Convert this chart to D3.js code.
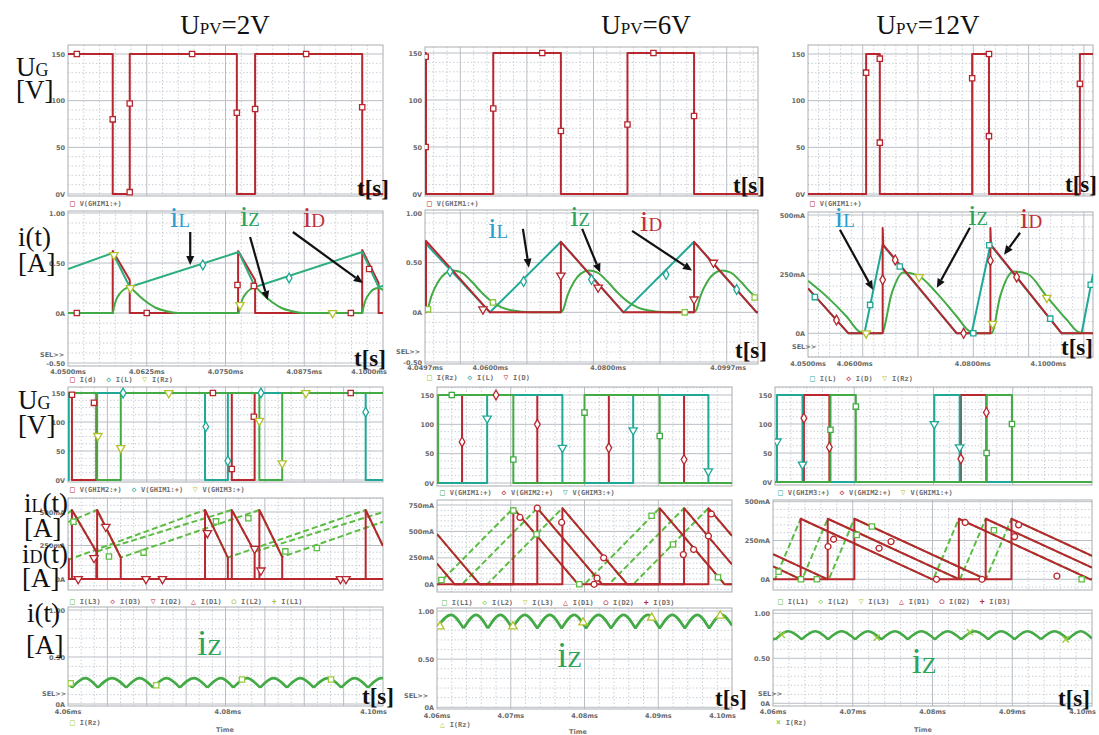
<!DOCTYPE html>
<html>
<head>
<meta charset="utf-8">
<script src="https://cdn.jsdelivr.net/npm/d3@7"></script>
<style>
  body { margin: 0; background: #fff; }
  svg { display: block; }
</style>
</head>
<body>
<svg id="fig" width="1099" height="735"></svg>
<script>
// ---------------- data (t in µs from the start of each window) ----------------

// column headers
const colTitles = ["=2V", "=6V", "=12V"];

// row 1: gate voltage of one switch [V]
const ug2V = [[0,150],[7.1,0],[9.8,150],[26.8,0],[29.7,150],[46.7,0],[50,0]];
const ug2Vmk = [[1.4,150],[7.1,80],[9.8,97],[9.8,2],[19.7,150],[26.8,87],[29.7,91],[37.8,150],[46.7,93]];
const ug6V = [[0,150],[0.15,0],[10.25,150],[20.4,0],[30.4,150],[40.4,0],[50,0]];
const ug6Vmk = [[0.1,146],[0.1,50],[10.25,91],[17.6,150],[20.4,67],[30.4,74],[34.3,150],[40.4,83]];
const ug12V = [[0,0],[10.2,150],[12.6,0],[28.8,150],[31.75,0],[47.7,150],[50,150]];
const ug12Vmk = [[10.2,130],[12.6,145],[12.6,55],[28.8,124],[31.75,62],[31.75,150],[47.7,118]];

// row 2: single-phase currents [A] / [mA]
const iL2V = [[0,0.44],[7.1,0.60],[9.8,0.26],[27.1,0.61],[29.7,0.26],[46.7,0.61],[49.3,0.26],[50,0.27]];
const iL2Vmk = [[21.4,0.48],[35.1,0.35]];
const iZ2V = [[0,0],[7.1,0],[7.3,0.06],[7.7,0.14],[8.3,0.20],[9.0,0.24],[9.8,0.26],[10.5,0.22],[11.5,0.16],
  [12.7,0.10],[14.0,0.05],[15.5,0.02],[17.5,0],[27.1,0],[27.3,0.06],[27.7,0.14],[28.3,0.20],[29.0,0.24],
  [29.7,0.26],[30.4,0.22],[31.4,0.16],[32.6,0.10],[33.9,0.05],[35.4,0.02],[37.4,0],[46.7,0],[46.9,0.06],
  [47.3,0.14],[47.9,0.20],[48.6,0.24],[49.3,0.25],[50,0.23]];
const iZ2Vmk = [[7.3,0.58],[9.9,0.25],[27.3,0.08],[42.0,0]];
const iD2V = [[0,0],[7.1,0],[7.1,0.62],[9.8,0.33],[9.8,0],[27.0,0],[27.0,0.62],[29.7,0.33],[29.7,0],
  [46.7,0],[46.7,0.63],[49.3,0.30],[49.3,0],[50,0]];
const iD2Vmk = [[1.4,0],[12.5,0],[26.9,0.28],[29.5,0.27],[44.9,0],[47.8,0.44]];

const iL6V = [[0,0.70],[9.76,0],[20.4,0.71],[29.8,0],[40.4,0.71],[49.8,0],[50,0.01]];
const iL6Vmk = [[3.75,0.41],[14.8,0.31],[25.0,0.33],[36.2,0.38],[46.8,0.23]];
const iZ6V = [[0,0],[0.3,0.02],[1.0,0.17],[2.0,0.31],[3.0,0.39],[4.2,0.42],[5.5,0.40],[7.0,0.31],[8.5,0.20],
  [10.2,0.10],[11.5,0.05],[13.0,0.02],[16.0,0],[20.4,0],[20.7,0.02],[21.4,0.17],[22.4,0.31],[23.4,0.39],
  [24.6,0.42],[25.9,0.40],[27.4,0.31],[28.9,0.20],[30.6,0.10],[31.9,0.05],[33.4,0.02],[36.4,0],[40.4,0],
  [40.7,0.02],[41.4,0.17],[42.4,0.31],[43.4,0.39],[44.6,0.42],[45.9,0.40],[47.4,0.31],[48.9,0.20],[50,0.14]];
const iZ6Vmk = [[0.45,0.03],[10.2,0.10],[39.0,0],[49.5,0.15]];
const iD6V = [[0,0],[0.15,0],[0.15,0.72],[9.76,0],[20.4,0],[20.4,0.71],[29.8,0],[40.4,0],[40.4,0.71],[49.8,0],[50,0]];
const iD6Vmk = [[8.7,0.03],[20.4,0.37],[26.0,0.25],[40.4,0.13],[43.3,0.50]];

const iL12V = [[0,190],[7.1,0],[9.9,0],[13.1,374],[26.1,0],[28.7,0],[32.0,374],[44.5,0],[48.0,0],[50,250]];
const iL12Vmk = [[1.2,153],[10.9,120],[16.1,282],[29.0,0],[31.8,372],[42.5,62],[49.6,205]];
const iZ12V = [[0,222],[3.3,155],[6.8,70],[9.1,6],[10.3,0],[12.9,0],[14.7,170],[16.7,257],[19.1,247],
  [22.6,170],[26.1,71],[28.4,7],[29.6,0],[32.2,0],[33.7,155],[36.1,261],[38.5,251],[41.9,155],[45.4,57],
  [47.7,3],[50,0]];
const iZ12Vmk = [[10.2,0],[19.5,238],[32.4,40],[41.9,150]];
const iD12V = [[0,190],[7.1,0],[13.1,0],[13.1,445],[13.2,374],[26.1,0],[32.0,0],[32.0,445],[32.1,374],[44.5,0],[50,0]];
const iD12Vmk = [[5.0,56],[13.1,226],[15.3,310],[27.3,0],[32.0,307],[36.6,238]];

// row 3: gate voltages of the three phases [V]
const g2Va = [[0,150],[0.5,0],[3.6,150],[20.8,0],[23.7,150],[40,150]];
const g2Vamk = [[0.5,147],[3.3,133],[18.4,150],[20.8,19],[23.6,109],[35.9,150]];
const g2Vb = [[0,0],[0.1,150],[17.4,0],[20.3,150],[37.8,0],[40,0]];
const g2Vbmk = [[7.0,150],[17.5,92],[20.3,33],[24.5,150],[37.8,117]];
const g2Vc = [[0,150],[3.7,0],[6.7,150],[24.3,0],[27.2,150],[40,150]];
const g2Vcmk = [[3.8,76],[6.7,55],[12.8,150],[24.3,102],[27.2,29],[30.2,150]];

const g6Va = [[0,0],[0.15,150],[10.35,0],[20.0,150],[30.2,0],[40,0]];
const g6Vb = [[0,0],[3.4,150],[13.6,0],[23.3,150],[33.5,0],[40,0]];
const g6Vc = [[0,0],[6.8,150],[17.0,0],[26.6,150],[36.8,0],[40,0]];
const g6Vamk = [[2.0,150],[10.35,40],[20.0,120],[30.2,80]];
const g6Vbmk = [[3.4,70],[8.0,150],[13.6,100],[23.3,60],[33.5,40]];
const g6Vcmk = [[6.8,110],[17.0,60],[26.6,90],[36.8,20]];

const g12Va = [[0,0],[0.25,150],[3.47,0],[20.1,150],[23.3,0],[40,0]];
const g12Vb = [[0,0],[3.65,150],[6.86,0],[23.45,150],[26.67,0],[40,0]];
const g12Vc = [[0,0],[7.0,150],[10.2,0],[26.7,150],[29.9,0],[40,0]];
const g12Vamk = [[0.25,70],[3.47,30],[20.1,100],[23.3,60]];
const g12Vbmk = [[3.65,110],[6.86,60],[23.45,40],[26.67,120]];
const g12Vcmk = [[7.0,90],[10.2,130],[26.7,50],[29.9,100]];

// row 4: inductor (dashed) and diode currents of the three phases [mA]
const iLa2V = [[0,490],[0.5,515],[3.6,204],[20.8,515],[23.7,204],[40,499]];
const iLb2V = [[0,425],[3.7,515],[6.7,160],[24.3,515],[27.2,165],[40,427]];
const iLc2V = [[0,155],[0.1,145],[17.4,515],[20.3,160],[37.8,515],[40,246]];
const iDa2V = [[0,0],[0.5,0],[0.5,515],[3.6,204],[3.6,0],[20.8,0],[20.8,515],[23.7,204],[23.7,0],[40,0]];
const iDb2V = [[0,0],[3.7,0],[3.7,515],[6.7,160],[6.7,0],[24.3,0],[24.3,515],[27.2,165],[27.2,0],[40,0]];
const iDc2V = [[0,155],[0.1,145],[0.1,0],[17.4,0],[17.4,515],[20.3,160],[20.3,0],[37.8,0],[37.8,515],[40,246]];
const iL2Vmk4 = [[0.7,428],[5.2,168],[9.6,197],[18.8,430],[22.9,453],[27.6,206],[31.6,231]];
const iD2Vmk4 = [[3.3,157],[12.0,0],[17.7,343],[23.7,225],[34.6,0],[9.9,0],[35.3,0],[4.8,390],[24.5,64],[1.3,0]];

const iLa6V = [[0,0],[0.15,0],[10.35,720],[19.15,0],[20.0,0],[30.2,720],[39.0,0],[40,0]];
const iLb6V = [[0,196],[2.4,0],[3.4,0],[13.6,720],[22.4,0],[23.3,0],[33.5,720],[40,188]];
const iLc6V = [[0,475],[5.8,0],[6.8,0],[17.0,720],[25.8,0],[26.6,0],[36.8,720],[40,458]];
const iDa6V = [[0,0],[10.35,0],[10.35,720],[19.15,0],[30.2,0],[30.2,720],[39.0,0],[40,0]];
const iDb6V = [[0,196],[2.4,0],[13.6,0],[13.6,720],[22.4,0],[33.5,0],[33.5,720],[40,188]];
const iDc6V = [[0,475],[5.8,0],[17.0,0],[17.0,720],[25.8,0],[36.8,0],[36.8,720],[40,458]];
const iL6Vmk4 = [[0.6,41],[10.35,697],[19.3,0],[29.1,649],[38.1,67],[13.5,473],[32.0,377]];
const iD6Vmk4 = [[11.25,633],[21.3,0],[34.8,329],[13.6,720],[21.7,58],[33.4,281],[36.8,457],[16.9,585],[22.6,250],[37.2,665]];

const iLa12V = [[0,2],[0.1,0],[0.25,0],[3.47,390],[19.97,0],[20.1,0],[23.3,390],[39.8,0],[40,0]];
const iLb12V = [[0,83],[3.5,0],[3.65,0],[6.86,390],[23.36,0],[23.45,0],[26.67,390],[40,76]];
const iLc12V = [[0,162],[6.85,0],[7.0,0],[10.2,390],[26.7,0],[29.9,390],[40,151]];
const iDa12V = [[0,2],[0.1,0],[3.47,0],[3.47,390],[19.97,0],[23.3,0],[23.3,390],[39.8,0],[40,0]];
const iDb12V = [[0,83],[3.5,0],[6.86,0],[6.86,390],[23.36,0],[26.67,0],[26.67,390],[40,76]];
const iDc12V = [[0,162],[6.85,0],[10.2,0],[10.2,390],[26.7,0],[29.9,0],[29.9,390],[40,151]];
const iL12Vmk4 = [[0.7,49],[3.5,0],[10.5,286],[5.5,0],[12.4,340],[27.7,316],[38.7,0]];
const iD12Vmk4 = [[7.6,258],[20.5,0],[24.1,366],[35.6,21],[6.9,211],[13.3,200],[30.3,275],[14.8,243],[30.8,351],[26.2,0]];

// row 5: load current ripple [A]
const iZr2V = [[0,0.235],[0.5,0.175],[2.2,0.275],[3.8,0.175],[5.6,0.275],[7.4,0.175],[9.1,0.275],[10.8,0.175],
  [12.5,0.275],[14.2,0.175],[16.0,0.275],[17.7,0.175],[19.4,0.275],[21.0,0.175],[22.7,0.275],[24.4,0.175],
  [26.1,0.275],[27.8,0.175],[29.5,0.275],[31.2,0.175],[33.0,0.275],[34.7,0.175],[36.4,0.275],[38.1,0.175],
  [39.8,0.275],[40,0.274]];
const iZr2Vmk = [[0.34,0.22],[11.2,0.20],[22.1,0.26],[33.4,0.26]];
const iZr6V = [[0,0.83],[1.9,0.96],[3.6,0.82],[5.3,0.96],[6.9,0.82],[8.6,0.96],[10.2,0.82],[11.9,0.96],
  [13.6,0.82],[15.3,0.96],[16.9,0.82],[18.6,0.96],[20.2,0.82],[21.9,0.96],[23.6,0.82],[25.3,0.96],
  [26.9,0.82],[28.6,0.96],[30.2,0.82],[31.9,0.96],[33.6,0.82],[35.3,0.96],[36.9,0.82],[38.6,0.96],[40,0.85]];
const iZr6Vmk = [[0.4,0.84],[10.3,0.84],[19.8,0.88],[29.1,0.93],[38.4,0.95]];
const iZr12V = [[0,0.72],[0.3,0.71],[1.9,0.80],[3.6,0.71],[5.3,0.80],[6.9,0.71],[8.6,0.80],[10.3,0.71],
  [11.9,0.80],[13.6,0.71],[15.3,0.80],[16.9,0.71],[18.6,0.80],[20.3,0.71],[21.9,0.80],[23.6,0.71],
  [25.3,0.80],[27.0,0.71],[28.6,0.80],[30.3,0.71],[31.9,0.80],[33.6,0.71],[35.3,0.80],[37.0,0.71],
  [38.6,0.80],[40,0.72]];
const iZr12Vmk = [[1.1,0.76],[13.0,0.73],[24.7,0.79],[36.7,0.71]];

// tick labels
const ytV = [[0,"0V"],[50,"50"],[100,"100"],[150,"150"]];
const ytA = [[-0.5,"-0.50"],[0,"0A"],[0.5,"0.50"],[1,"1.00"]];
const ytmA500 = [[0,"0A"],[250,"250mA"],[500,"500mA"]];
const ytmA750 = [[0,"0A"],[250,"250mA"],[500,"500mA"],[750,"750mA"]];
const ytZ = [[0,"0A"],[0.5,"0.50"],[1,"1.00"]];
const xt2V = [[0,"4.0500ms"],[12.5,"4.0625ms"],[25,"4.0750ms"],[37.5,"4.0875ms"],[50,"4.1000ms"]];
const xt6V = [[0,"4.0497ms"],[9.8,"4.0600ms"],[27.5,"4.0800ms"],[47.6,"4.0997ms"]];
const xt12V = [[0,"4.0500ms"],[8.2,"4.0600ms"],[28.9,"4.0800ms"],[44.6,"4.1000ms"]];
const xtZ2V = [[0,"4.06ms"],[20.3,"4.08ms"],[40,"4.10ms"]];
const xtZ = [[0,"4.06ms"],[10,"4.07ms"],[20,"4.08ms"],[30,"4.09ms"],[40,"4.10ms"]];

// annotations in data units: [text, sub, colour, t, v] and arrows [t0,v0,t1,v1]
const ann2V = [["i","L","#2a9fd0",16.2,0.86],["i","Z","#2ca35a",27.3,0.87],["i","D","#c0303a",37.3,0.86]];
const arr2V = [[19.4,0.81,19.4,0.48],[28.9,0.76,31.7,0.13],[35.7,0.81,46.8,0.30]];
const ann6V = [["i","L","#2a9fd0",9.5,0.75],["i","Z","#2ca35a",21.8,0.87],["i","D","#c0303a",32.3,0.82]];
const arr6V = [[14.7,0.84,15.6,0.45],[23.6,0.84,26.3,0.40],[31.1,0.82,40.1,0.42]];
const ann12V = [["i","L","#2a9fd0",4.7,451],["i","Z","#2ca35a",28.1,459],["i","D","#c0303a",37.2,446]];
const arr12V = [[5.6,438,11.4,184],[28.4,446,22.6,192],[37.2,425,34.4,332]];

// ---------------- drawing ----------------
const RED = "#b8262e", TEAL = "#1fa896", GRN = "#43aa45", LIME = "#b3c22c",
      DASH = "#5cbc43", IL1 = "#2fae7e", LGRN = "#8fcf5a", PINK = "#c8506e";

const svg = d3.select("#fig");
const defs = svg.append("defs");
let clipN = 0;

const SYM = {
  sq: d3.symbolSquare, di: d3.symbolDiamond, tu: d3.symbolTriangle, td: d3.symbolTriangle,
  ci: d3.symbolCircle, pl: d3.symbolPlus || d3.symbolCross, x: d3.symbolTimes || d3.symbolCross
};
const SYMCH = {sq: "\u25A1", di: "\u25C7", tu: "\u25B3", td: "\u25BD", ci: "\u25CB", pl: "+", x: "\u00D7"};

// split at local minima so the ripple keeps sharp valleys
function cuspPieces(data) {
  const out = [];
  let cur = [data[0]];
  for (let i = 1; i < data.length; i++) {
    cur.push(data[i]);
    if (i < data.length - 1 && data[i][1] < data[i - 1][1] && data[i][1] < data[i + 1][1]) {
      out.push(cur);
      cur = [data[i]];
    }
  }
  if (cur.length > 1) out.push(cur);
  return out;
}

function drawPanel(p) {
  const [L, T, R, B] = p.box;
  const yv = p.yt.map(d => d[0]);
  const x = d3.scaleLinear().domain([0, p.T]).range([L, R]);
  const y = d3.scaleLinear().domain([yv[0], yv[yv.length - 1]]).range(p.yPx);
  const g = svg.append("g");

  // grid
  const grid = g.append("g");
  const hStep = (yv[1] - yv[0]) / p.hSub;
  const lo = y.invert(B), hi = y.invert(T);
  for (let k = Math.ceil((lo - yv[0]) / hStep - 1e-6); yv[0] + k * hStep <= hi + 1e-6; k++) {
    const yy = y(yv[0] + k * hStep);
    const major = ((k % p.hSub) + p.hSub) % p.hSub === 0;
    grid.append("line").attr("x1", L).attr("x2", R).attr("y1", yy).attr("y2", yy)
      .attr("stroke", major ? "#b9bec4" : "#c9d0d8")
      .attr("stroke-width", 1)
      .attr("stroke-dasharray", major ? null : "1.5,2");
  }
  const [vOff, vStep, vSub] = p.vg;
  const vm = vStep / vSub;
  for (let k = Math.ceil(-vOff / vm - 1e-6); vOff + k * vm <= p.T + 1e-6; k++) {
    const t = vOff + k * vm;
    if (t <= 0.05 || t >= p.T - 0.05) continue;
    const major = ((k % vSub) + vSub) % vSub === 0;
    grid.append("line").attr("x1", x(t)).attr("x2", x(t)).attr("y1", T).attr("y2", B)
      .attr("stroke", major ? "#b9bec4" : "#c9d0d8")
      .attr("stroke-width", 1)
      .attr("stroke-dasharray", major ? null : "1.5,2");
  }
  g.append("rect").attr("x", L).attr("y", T).attr("width", R - L).attr("height", B - T)
    .attr("fill", "none").attr("stroke", "#a9adb2").attr("stroke-width", 1);

  // y tick labels
  g.selectAll(".yl").data(p.yt).enter().append("text")
    .attr("x", L - 3).attr("y", d => y(d[0]) + 2.5)
    .attr("text-anchor", "end")
    .attr("font-family", "DejaVu Sans").attr("font-size", 6.5).attr("font-weight", "bold")
    .attr("fill", "#6a6a6a")
    .text(d => d[1]);

  // x tick labels
  if (p.xt) {
    g.selectAll(".xl").data(p.xt).enter().append("text")
      .attr("x", d => x(d[0])).attr("y", p.xtY)
      .attr("text-anchor", (d, i) => i === p.xt.length - 1 ? "end" : "middle")
      .attr("dx", (d, i) => i === p.xt.length - 1 ? 4 : 0)
      .attr("font-family", "DejaVu Sans").attr("font-size", 6.5).attr("font-weight", "bold")
      .attr("fill", "#6a6a6a")
      .text(d => d[1]);
  }
  if (p.sel) {
    g.append("text").attr("x", p.sel[0]).attr("y", p.sel[1])
      .attr("font-family", "DejaVu Sans").attr("font-size", 6.5).attr("font-weight", "bold")
      .attr("fill", "#6a6a6a").text("SEL>>");
  }

  // traces
  const id = "clip" + (clipN++);
  defs.append("clipPath").attr("id", id).append("rect")
    .attr("x", L).attr("y", T).attr("width", R - L).attr("height", B - T);
  const tr = g.append("g").attr("clip-path", `url(#${id})`);
  p.series.forEach(s => {
    const line = d3.line().x(d => x(d[0])).y(d => y(d[1]));
    let dstr;
    if (s.curve === "step") dstr = line.curve(d3.curveStepAfter)(s.d);
    else if (s.curve === "smooth") dstr = line.curve(d3.curveMonotoneX)(s.d);
    else if (s.curve === "cusp") dstr = cuspPieces(s.d).map(pc => line.curve(d3.curveMonotoneX)(pc)).join("");
    else dstr = line.curve(d3.curveLinear)(s.d);
    tr.append("path").attr("d", dstr).attr("fill", "none")
      .attr("stroke", s.c).attr("stroke-width", s.w || 2)
      .attr("stroke-dasharray", s.dash || null)
      .attr("stroke-linejoin", "round");
  });
  p.series.forEach(s => {
    if (!s.mk) return;
    const sym = d3.symbol().type(SYM[s.sym]).size(s.sym === "tu" || s.sym === "td" ? 30 : 28);
    tr.selectAll(null).data(s.mk).enter().append("path")
      .attr("d", sym)
      .attr("transform", d => `translate(${x(d[0])},${y(d[1])})${s.sym === "td" ? " rotate(180)" : ""}${s.sym === "x" && !d3.symbolTimes ? " rotate(45)" : ""}`)
      .attr("fill", s.sym === "pl" || s.sym === "x" ? "none" : "#fff")
      .attr("stroke", s.mc || s.c).attr("stroke-width", 1.3);
  });

  // annotations
  if (p.ann) {
    p.ann.forEach(a => {
      const t = g.append("text").attr("x", x(a[3])).attr("y", y(a[4]))
        .attr("font-family", "Liberation Serif").attr("fill", a[2]);
      t.append("tspan").attr("font-size", p.annBig || 30).text(a[0]);
      t.append("tspan").attr("font-size", p.annSmall || 19).text(a[1]);
    });
  }
  if (p.arr) {
    p.arr.forEach(a => {
      const x0 = x(a[0]), y0 = y(a[1]), x1 = x(a[2]), y1 = y(a[3]);
      const ang = Math.atan2(y1 - y0, x1 - x0), hl = 9, hw = 4;
      const bx = x1 - hl * Math.cos(ang), by = y1 - hl * Math.sin(ang);
      g.append("line").attr("x1", x0).attr("y1", y0).attr("x2", bx).attr("y2", by)
        .attr("stroke", "#111").attr("stroke-width", 2.2);
      g.append("path")
        .attr("d", `M${x1},${y1}L${bx - hw * Math.sin(ang)},${by + hw * Math.cos(ang)}L${bx + hw * Math.sin(ang)},${by - hw * Math.cos(ang)}Z`)
        .attr("fill", "#111");
    });
  }

  // legend
  if (p.leg) {
    const lt = g.append("text").attr("x", p.leg[0]).attr("y", p.leg[1])
      .attr("font-family", "DejaVu Sans Mono").attr("font-size", 7).attr("font-weight", "bold")
      .attr("xml:space", "preserve");
    p.leg[2].forEach((it, i) => {
      lt.append("tspan").attr("fill", it[1]).attr("font-size", 8).text((i ? "  " : "") + SYMCH[it[0]] + " ");
      lt.append("tspan").attr("fill", "#707070").text(it[2]);
    });
  }
  if (p.time) {
    g.append("text").attr("x", p.time[0]).attr("y", p.time[1]).attr("text-anchor", "middle")
      .attr("font-family", "DejaVu Sans").attr("font-size", 6.5).attr("font-weight", "bold")
      .attr("fill", "#707070").text("Time");
  }
  if (p.ts) {
    g.append("text").attr("x", p.ts[0]).attr("y", p.ts[1])
      .attr("font-family", "Liberation Serif").attr("font-size", 23).attr("font-weight", "bold")
      .attr("fill", "#111").text("t[s]");
  }
}

const panels = [
  // row 1
  {box:[68,45,383,196], T:50, yt:ytV, yPx:[194,54], hSub:5, vg:[0,12.5,5],
   series:[{d:ug2V, c:RED, curve:"step", mk:ug2Vmk, sym:"sq"}],
   leg:[70,206,[["sq",RED,"V(GHIM1:+)"]]], ts:[357,196]},
  {box:[425,47,758,196], T:50, yt:ytV, yPx:[194,53], hSub:5, vg:[5.3,10,5],
   series:[{d:ug6V, c:RED, curve:"step", mk:ug6Vmk, sym:"sq"}],
   leg:[427,206,[["sq",RED,"V(GHIM1:+)"]]], ts:[733,193]},
  {box:[808,45,1093,196], T:50, yt:ytV, yPx:[194,54], hSub:5, vg:[9.6,9.7,5],
   series:[{d:ug12V, c:RED, curve:"step", mk:ug12Vmk, sym:"sq"}],
   leg:[810,206,[["sq",RED,"V(GHIM1:+)"]]], ts:[1065,192]},
  // row 2
  {box:[68,211,383,366], T:50, yt:ytA, yPx:[363,213], hSub:5, vg:[0,12.5,5], xt:xt2V, xtY:374, sel:[40,357],
   series:[{d:iD2V, c:RED, mk:iD2Vmk, sym:"sq"},
           {d:iZ2V, c:GRN, curve:"smooth", mk:iZ2Vmk, sym:"td", mc:LIME},
           {d:iL2V, c:IL1, mk:iL2Vmk, sym:"di", mc:TEAL}],
   leg:[70,382,[["sq",RED,"I(d)"],["di",TEAL,"I(L)"],["td",LIME,"I(Rz)"]]],
   ann:ann2V, arr:arr2V, ts:[354,366]},
  {box:[425,210,758,364], T:50, yt:ytA, yPx:[362,213], hSub:5, vg:[5.3,10,5], xt:xt6V, xtY:370, sel:[396,354],
   series:[{d:iL6V, c:TEAL, mk:iL6Vmk, sym:"di"},
           {d:iZ6V, c:GRN, curve:"smooth", mk:iZ6Vmk, sym:"sq", mc:"#8cc63f"},
           {d:iD6V, c:RED, mk:iD6Vmk, sym:"td"}],
   leg:[427,380,[["sq","#8cc63f","I(Rz)"],["di",TEAL,"I(L)"],["td",RED,"I(D)"]]],
   ann:ann6V, arr:arr6V, ts:[735,358]},
  {box:[808,212,1093,357], T:50, yt:ytmA500, yPx:[333.3,215], hSub:5, vg:[9.6,9.7,5], xt:xt12V, xtY:366, sel:[792,349],
   series:[{d:iL12V, c:TEAL, mk:iL12Vmk, sym:"sq"},
           {d:iZ12V, c:GRN, curve:"smooth", mk:iZ12Vmk, sym:"td", mc:LIME},
           {d:iD12V, c:RED, mk:iD12Vmk, sym:"di"}],
   leg:[810,381,[["sq",TEAL,"I(L)"],["di",RED,"I(D)"],["td",LIME,"I(Rz)"]]],
   ann:ann12V, arr:arr12V, ts:[1061,355]},
  // row 3
  {box:[68,387,383,482], T:40, yt:ytV, yPx:[480,393], hSub:4, vg:[0,5,3],
   series:[{d:g2Va, c:RED, curve:"step", mk:g2Vamk, sym:"sq"},
           {d:g2Vb, c:TEAL, curve:"step", mk:g2Vbmk, sym:"di"},
           {d:g2Vc, c:GRN, curve:"step", mk:g2Vcmk, sym:"td", mc:LIME}],
   leg:[70,492,[["sq",RED,"V(GHIM2:+)"],["di",TEAL,"V(GHIM1:+)"],["td",LIME,"V(GHIM3:+)"]]]},
  {box:[437,387,732,486], T:40, yt:ytV, yPx:[483,395], hSub:4, vg:[0,10,5],
   series:[{d:g6Vb, c:RED, curve:"step", mk:g6Vbmk, sym:"di"},
           {d:g6Vc, c:TEAL, curve:"step", mk:g6Vcmk, sym:"td"},
           {d:g6Va, c:GRN, curve:"step", mk:g6Vamk, sym:"sq"}],
   leg:[440,495,[["sq",GRN,"V(GHIM1:+)"],["di",RED,"V(GHIM2:+)"],["td",TEAL,"V(GHIM3:+)"]]]},
  {box:[775,387,1092,485], T:40, yt:ytV, yPx:[482,395], hSub:4, vg:[0,10,5],
   series:[{d:g12Vb, c:RED, curve:"step", mk:g12Vbmk, sym:"di"},
           {d:g12Va, c:TEAL, curve:"step", mk:g12Vamk, sym:"td"},
           {d:g12Vc, c:GRN, curve:"step", mk:g12Vcmk, sym:"sq"}],
   leg:[778,495,[["sq",TEAL,"V(GHIM3:+)"],["di",RED,"V(GHIM2:+)"],["td",LIME,"V(GHIM1:+)"]]]},
  // row 4
  {box:[68,498,383,590], T:40, yt:ytmA500, yPx:[579,512], hSub:5, vg:[0,5,3],
   series:[{d:iLa2V, c:DASH, dash:"6,3", mk:iL2Vmk4, sym:"sq"},
           {d:iLb2V, c:DASH, dash:"6,3"}, {d:iLc2V, c:DASH, dash:"6,3"},
           {d:iDa2V, c:RED, mk:iD2Vmk4, sym:"td"}, {d:iDb2V, c:RED}, {d:iDc2V, c:RED}],
   leg:[70,604,[["sq",DASH,"I(L3)"],["di",PINK,"I(D3)"],["td",RED,"I(D2)"],["tu",RED,"I(D1)"],["ci",LIME,"I(L2)"],["pl",LIME,"I(L1)"]]]},
  {box:[437,500,732,592], T:40, yt:ytmA750, yPx:[584.3,505], hSub:5, vg:[0,10,5],
   series:[{d:iLa6V, c:DASH, dash:"6,3", mk:iL6Vmk4, sym:"sq"},
           {d:iLb6V, c:DASH, dash:"6,3"}, {d:iLc6V, c:DASH, dash:"6,3"},
           {d:iDa6V, c:RED, mk:iD6Vmk4, sym:"ci"}, {d:iDb6V, c:RED}, {d:iDc6V, c:RED}],
   leg:[442,605,[["sq",DASH,"I(L1)"],["di",LGRN,"I(L2)"],["td",LIME,"I(L3)"],["tu",RED,"I(D1)"],["ci",RED,"I(D2)"],["pl",RED,"I(D3)"]]]},
  {box:[773,500,1092,590], T:40, yt:ytmA500, yPx:[579.3,501.7], hSub:5, vg:[0,10,5],
   series:[{d:iLa12V, c:DASH, dash:"6,3", mk:iL12Vmk4, sym:"sq"},
           {d:iLb12V, c:DASH, dash:"6,3"}, {d:iLc12V, c:DASH, dash:"6,3"},
           {d:iDa12V, c:RED, mk:iD12Vmk4, sym:"ci"}, {d:iDb12V, c:RED}, {d:iDc12V, c:RED}],
   leg:[778,604,[["sq",DASH,"I(L1)"],["di",LGRN,"I(L2)"],["td",LIME,"I(L3)"],["tu",RED,"I(D1)"],["ci",RED,"I(D2)"],["pl",RED,"I(D3)"]]]},
  // row 5
  {box:[68,607,383,706], T:40, yt:ytZ, yPx:[704,610], hSub:5, vg:[0,5,3], xt:xtZ2V, xtY:714, sel:[42,696],
   series:[{d:iZr2V, c:GRN, curve:"cusp", w:2.6, mk:iZr2Vmk, sym:"sq", mc:"#9acb3c"}],
   leg:[70,725,[["sq","#9acb3c","I(Rz)"]]], time:[225,732], ts:[362,704],
   ann:[["i","Z","#2ca35a",16.4,0.52]], annBig:36, annSmall:24},
  {box:[437,608,732,709], T:40, yt:ytZ, yPx:[707.3,611], hSub:5, vg:[0,10,5], xt:xtZ, xtY:718, sel:[404,698],
   series:[{d:iZr6V, c:GRN, curve:"cusp", w:2.6, mk:iZr6Vmk, sym:"tu", mc:"#b3c22c"}],
   leg:[440,727,[["tu","#b3c22c","I(Rz)"]]], time:[578,734], ts:[715,706],
   ann:[["i","Z","#2ca35a",16.3,0.42]], annBig:36, annSmall:24},
  {box:[773,610,1092,706], T:40, yt:ytZ, yPx:[703.3,613.3], hSub:5, vg:[0,10,5], xt:xtZ, xtY:714, sel:[758,696],
   series:[{d:iZr12V, c:GRN, curve:"cusp", w:2.6, mk:iZr12Vmk, sym:"x", mc:"#9acb3c"}],
   leg:[776,725,[["x","#9acb3c","I(Rz)"]]], time:[923,732], ts:[1058,706],
   ann:[["i","Z","#2ca35a",17.4,0.34]], annBig:36, annSmall:24}
];

panels.forEach(drawPanel);

// column headers
const titleX = [225, 646, 928];
colTitles.forEach((t, i) => {
  const tx = svg.append("text").attr("x", titleX[i]).attr("y", 34)
    .attr("text-anchor", "middle").attr("font-family", "Liberation Serif").attr("fill", "#111");
  tx.append("tspan").attr("font-size", 27).text("U");
  tx.append("tspan").attr("font-size", 17).text("PV");
  tx.append("tspan").attr("font-size", 27).text(t);
});

// left axis titles
function axisTitle(xp, yp, big, small, rest) {
  const tx = svg.append("text").attr("x", xp).attr("y", yp)
    .attr("font-family", "Liberation Serif").attr("fill", "#111");
  tx.append("tspan").attr("font-size", 27).text(big);
  if (small) tx.append("tspan").attr("font-size", 18).text(small);
  if (rest) tx.append("tspan").attr("font-size", 27).text(rest);
}
axisTitle(16, 76, "U", "G");
axisTitle(16, 99, "[V]");
axisTitle(18, 246, "i(t)");
axisTitle(18, 272, "[A]");
axisTitle(18, 409, "U", "G");
axisTitle(18, 434, "[V]");
axisTitle(24, 512, "i", "L", "(t)");
axisTitle(24, 537, "[A]");
axisTitle(22, 563, "i", "D", "(t)");
axisTitle(22, 587, "[A]");
axisTitle(27, 622, "i(t)");
axisTitle(26, 654, "[A]");
</script>
</body>
</html>
